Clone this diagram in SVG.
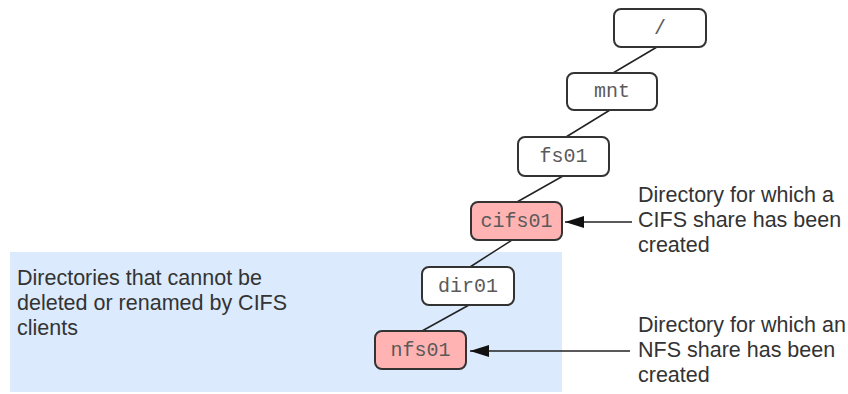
<svg xmlns="http://www.w3.org/2000/svg" width="848" height="394" viewBox="0 0 848 394">
<style>
.box{fill:#fff;stroke:#333;stroke-width:2}
.hl{fill:#ffb3b3}
.lbl{font-family:"Liberation Mono","Courier New",monospace;font-size:20px;fill:#5a5a5a;text-anchor:middle}
.txt{font-family:"Liberation Sans",Arial,sans-serif;font-size:21.5px;fill:#333}
.conn{stroke:#222;stroke-width:1.5;fill:none}
</style>
<defs>
<marker id="ah" markerWidth="19" markerHeight="12" refX="19" refY="6" orient="auto" markerUnits="userSpaceOnUse">
<path d="M19,6 L0,0 L0,12 Z" fill="#111"/>
</marker>
</defs>
<rect id="panel" x="10" y="252" width="552" height="140" fill="#dbeafc"/>
<g id="connectors">
<line class="conn" x1="657" y1="47" x2="613" y2="73"/>
<line class="conn" x1="610" y1="110" x2="566" y2="137"/>
<line class="conn" x1="563" y1="176" x2="517" y2="202"/>
<line class="conn" x1="512" y1="240" x2="470" y2="267"/>
<line class="conn" x1="469" y1="305" x2="422" y2="331"/>
<line class="conn" x1="632" y1="222" x2="565" y2="222" marker-end="url(#ah)"/>
<line class="conn" x1="630" y1="351" x2="470" y2="351" marker-end="url(#ah)"/>
</g>
<g id="root"><rect class="box" x="614" y="9" width="92" height="38" rx="7"/><text class="lbl" x="660" y="34">/</text></g>
<g id="mnt"><rect class="box" x="567" y="73" width="90" height="37" rx="7"/><text class="lbl" x="612" y="97">mnt</text></g>
<g id="fs01"><rect class="box" x="518" y="137" width="91" height="39" rx="7"/><text class="lbl" x="563.5" y="162">fs01</text></g>
<g id="cifs01"><rect class="box hl" x="471" y="202" width="91" height="38" rx="7"/><text class="lbl" x="516.5" y="227">cifs01</text></g>
<g id="dir01"><rect class="box" x="422" y="267" width="92" height="38" rx="7"/><text class="lbl" x="468" y="292">dir01</text></g>
<g id="nfs01"><rect class="box hl" x="375" y="331" width="91" height="38" rx="7"/><text class="lbl" x="420.5" y="356">nfs01</text></g>
<g id="cifs-note"><text class="txt"><tspan x="638" y="202">Directory for which a</tspan><tspan x="638" y="227">CIFS share has been</tspan><tspan x="638" y="252">created</tspan></text></g>
<g id="nfs-note"><text class="txt"><tspan x="638" y="332">Directory for which an</tspan><tspan x="638" y="357">NFS share has been</tspan><tspan x="638" y="382">created</tspan></text></g>
<g id="panel-note"><text class="txt"><tspan x="17" y="285">Directories that cannot be</tspan><tspan x="17" y="310">deleted or renamed by CIFS</tspan><tspan x="17" y="335">clients</tspan></text></g>
</svg>
